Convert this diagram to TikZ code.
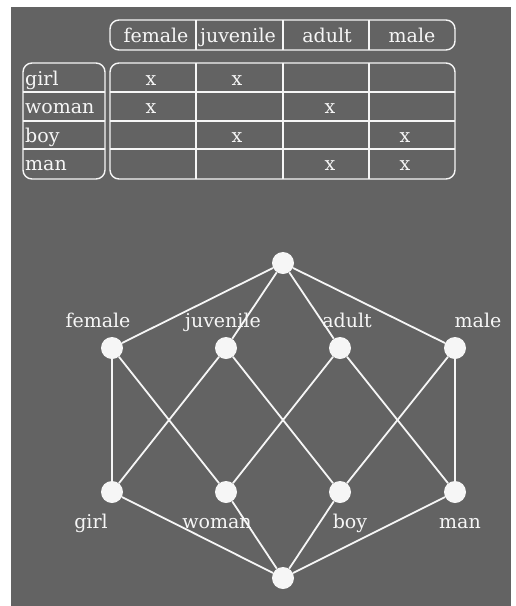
\documentclass[tikz,border=0pt]{standalone}
\usepackage{fontspec}
\setmainfont{DejaVu Serif}
\usetikzlibrary{positioning}
\definecolor{panel}{RGB}{99,99,99}
\definecolor{chalk}{RGB}{246,246,246}

\begin{document}
\begin{tikzpicture}[x=1pt, y=-1pt,
  concept/.style={circle, fill=chalk, minimum size=22pt, inner sep=0pt},
  link/.style={chalk, line width=1.8pt},
  frame/.style={chalk, line width=1.4pt, rounded corners=9pt},
  rule/.style={chalk, line width=1.4pt},
  word/.style={text=chalk, font=\fontsize{19}{21}\selectfont, inner sep=0pt, anchor=base},
  rowname/.style={word, anchor=base west}
]
  \useasboundingbox[fill=white] (0,0) rectangle (515,606);
  \fill[panel] (11,7) rectangle (511,606);

  % context table
  \draw[frame] (110,20) rectangle (455,50);
  \draw[frame] (23,63) rectangle (105,179);
  \draw[frame] (110,63) rectangle (455,179);
  \foreach \x in {196,283,369} {
    \draw[rule] (\x,20) -- (\x,50);
    \draw[rule] (\x,63) -- (\x,179);
  }
  \foreach \y in {92,121,149}
    \draw[rule] (23,\y) -- (105,\y) (110,\y) -- (455,\y);

  \foreach \a/\x in {female/156, juvenile/238, adult/327, male/412}
    \node[word] (head-\a) at (\x,42) {\a};
  \foreach \o/\y in {girl/85, woman/113, boy/142, man/170}
    \node[rowname] (row-\o) at (25,\y) {\o};
  \foreach \n/\x/\y in {1/151/85, 2/237/85, 3/151/113, 4/330/113,
                        5/237/142, 6/405/142, 7/330/170, 8/405/170}
    \node[word] (cross-\n) at (\x,\y) {x};

  % concept lattice
  \node[concept] (top) at (283,263) {};
  \node[concept] (fem) at (112,348) {};
  \node[concept] (juv) at (226,348) {};
  \node[concept] (adu) at (340,348) {};
  \node[concept] (mal) at (455,348) {};
  \node[concept] (girl) at (112,492) {};
  \node[concept] (woman) at (226,492) {};
  \node[concept] (boy) at (340,492) {};
  \node[concept] (man) at (455,492) {};
  \node[concept] (bot) at (283,578) {};

  \foreach \a/\b in {top/fem, top/juv, top/adu, top/mal,
                     fem/girl, fem/woman, juv/girl, juv/boy,
                     adu/woman, adu/man, mal/boy, mal/man,
                     girl/bot, woman/bot, boy/bot, man/bot}
    \draw[link] (\a) -- (\b);

  \node[word] (l-fem) at (98,327) {female};
  \node[word] (l-juv) at (223,327) {juvenile};
  \node[word] (l-adu) at (347,327) {adult};
  \node[word] (l-mal) at (478,327) {male};
  \node[word] (l-girl) at (91,528) {girl};
  \node[word] (l-woman) at (217,528) {woman};
  \node[word] (l-boy) at (350,528) {boy};
  \node[word] (l-man) at (460,528) {man};
\end{tikzpicture}
\end{document}
